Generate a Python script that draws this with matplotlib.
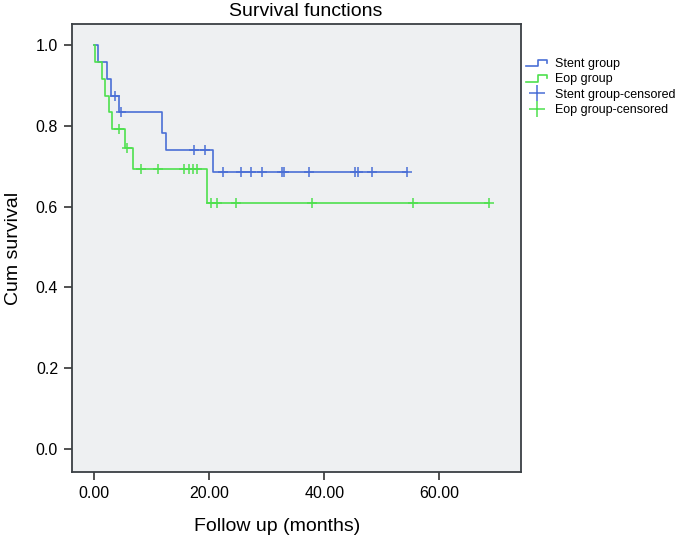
import matplotlib
matplotlib.use("Agg")
import matplotlib.pyplot as plt
from matplotlib.lines import Line2D
from matplotlib.legend_handler import HandlerBase

plt.rcParams['font.family'] = ['Liberation Sans', 'DejaVu Sans']

# Stent group
stent_t = [0, 0.7, 2.15, 2.85, 4.35, 11.7, 12.5, 20.6, 54.4]
stent_s = [1.0, 0.958, 0.917, 0.875, 0.833, 0.781, 0.740, 0.685, 0.685]
stent_ct = [3.6, 4.6, 17.3, 19.25, 22.4, 25.5, 27.3, 29.1, 32.6, 33.0, 37.4, 45.3, 45.8, 48.2, 54.4]
stent_cs = [0.875, 0.833, 0.740, 0.740, 0.685, 0.685, 0.685, 0.685, 0.685, 0.685, 0.685, 0.685, 0.685, 0.685, 0.685]

# Eop group
eop_t = [0, 0.1, 1.3, 1.9, 2.6, 3.1, 5.3, 6.7, 19.65, 68.6]
eop_s = [1.0, 0.958, 0.917, 0.875, 0.833, 0.792, 0.744, 0.694, 0.608, 0.608]
eop_ct = [4.2, 5.6, 8.1, 11.1, 15.6, 16.4, 17.1, 17.9, 20.3, 21.4, 24.6, 37.8, 55.5, 68.6]
eop_cs = [0.792, 0.744, 0.694, 0.694, 0.694, 0.694, 0.694, 0.694, 0.608, 0.608, 0.608, 0.608, 0.608, 0.608]

labels = ["Stent group", "Eop group", "Stent group-censored", "Eop group-censored"]
x_ticks = [0, 20, 40, 60]
y_ticks = [0.0, 0.2, 0.4, 0.6, 0.8, 1.0]

blue = "#4a6fd6"
green = "#4ee04e"

W, H = 682, 538
fig = plt.figure(figsize=(W / 100, H / 100), dpi=100)
l, r, t, b = 72, 521, 24, 472
aw, ah = r - l, b - t
ax = fig.add_axes([l / W, 1 - b / H, aw / W, ah / H])
ax.set_facecolor("#eef0f2")

ax.step(stent_t, stent_s, where="post", color=blue, lw=1.2)
ax.step(eop_t, eop_s, where="post", color=green, lw=1.2)
ax.plot(stent_ct, stent_cs, ls="none", marker="+", ms=7, mew=1.1, color=blue)
ax.plot(eop_ct, eop_cs, ls="none", marker="+", ms=7, mew=1.1, color=green)

ax.set_xlim(-3.9, 74.2)
ax.set_ylim(-0.057, 1.052)
ax.set_xticks(x_ticks)
ax.set_xticklabels([f"{v:.2f}" for v in x_ticks], fontsize=11.5)
ax.set_yticks(y_ticks)
ax.set_yticklabels([f"{v:.1f}" for v in y_ticks], fontsize=11.5)
ax.tick_params(direction="out", length=6, width=1.2, color="#333333", pad=4)
for s in ax.spines.values():
    s.set_color("#3a3f44")
    s.set_linewidth(1.3)

ax.set_xlabel("Follow up (months)", fontsize=14)
ax.xaxis.set_label_coords((277.5 - l) / aw, -(531 - b) / ah)
ax.xaxis.label.set_va("baseline")
ax.set_ylabel("Cum survival", fontsize=14)
ax.yaxis.set_label_coords((22 - l) / aw, 0.5)
ax.set_title("Survival functions", fontsize=14, pad=0, x=(306 - l) / aw, y=(b - 16) / ah, va="baseline")


class StepHandler(HandlerBase):
    def create_artists(self, legend, orig_handle, xdescent, ydescent, width, height, fontsize, trans):
        c = orig_handle.get_color()
        x0 = -xdescent
        y0 = -ydescent
        xs = [x0, x0 + width * 0.55, x0 + width * 0.55, x0 + width, x0 + width]
        ys = [y0 + height * 0.1, y0 + height * 0.1, y0 + height * 0.85, y0 + height * 0.85, y0 + height * 0.45]
        ln = Line2D(xs, ys, color=c, lw=1.2, transform=trans)
        return [ln]


h1 = Line2D([], [], color=blue)
h2 = Line2D([], [], color=green)
h3 = Line2D([], [], ls="none", marker="+", ms=12, mew=1.1, color=blue)
h4 = Line2D([], [], ls="none", marker="+", ms=12, mew=1.1, color=green)
leg = fig.legend([h1, h2, h3, h4], labels, loc="upper left",
                 bbox_to_anchor=(521 / W, 1 - 53 / H), frameon=False,
                 fontsize=9.0, handlelength=1.7, handletextpad=0.6,
                 labelspacing=0.27, borderaxespad=0,
                 handler_map={h1: StepHandler(), h2: StepHandler()})

fig.savefig("out.png", dpi=100)
